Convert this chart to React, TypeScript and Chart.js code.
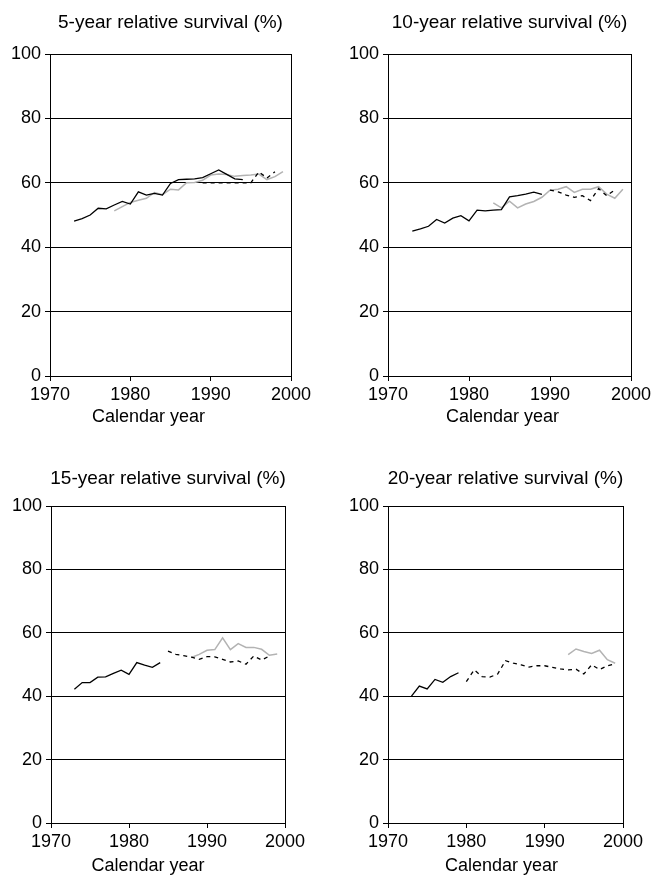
import React, { useEffect, useRef } from 'react';
import { Chart, registerables } from 'chart.js';

Chart.register(...registerables);

const FONT = '"Liberation Sans", Arial, sans-serif';

// ---- 5-year relative survival ----
const p5SolidStart = 1973;
const p5Solid = [48.1, 48.9, 50.0, 52.1, 51.9, 53.1, 54.2, 53.4, 57.2, 56.2, 56.7, 56.2, 59.8, 61.0, 61.1, 61.2, 61.6, 62.8, 64.0, 62.6, 61.2, 61.0];
const p5DashStart = 1989;
const p5Dash = [60.0, 60.0, 60.0, 60.0, 60.0, 60.0, 60.0, 63.4, 61.5, 63.4];
const p5GreyStart = 1978;
const p5Grey = [51.3, 52.6, 53.9, 54.6, 55.2, 57.0, 56.3, 58.0, 57.8, 60.0, 60.1, 60.8, 62.4, 62.7, 62.6, 62.0, 62.3, 62.4, 62.7, 61.0, 61.9, 63.5];

// ---- 10-year relative survival ----
const p10SolidStart = 1973;
const p10Solid = [45.0, 45.7, 46.5, 48.6, 47.5, 49.0, 49.8, 48.2, 51.5, 51.3, 51.5, 51.7, 55.6, 56.0, 56.5, 57.1, 56.4];
const p10DashStart = 1990;
const p10Dash = [57.7, 57.2, 56.2, 55.5, 56.0, 54.5, 58.2, 56.0, 57.8];
const p10GreyStart = 1983;
const p10Grey = [53.8, 52.2, 54.3, 52.2, 53.4, 54.2, 55.5, 57.7, 58.0, 58.8, 57.0, 58.0, 58.0, 58.8, 56.5, 55.2, 58.0];

// ---- 15-year relative survival ----
const p15SolidStart = 1973;
const p15Solid = [42.2, 44.3, 44.3, 46.0, 46.1, 47.2, 48.2, 46.9, 50.6, 49.8, 49.1, 50.6];
const p15DashStart = 1985;
const p15Dash = [54.2, 53.2, 52.8, 52.3, 51.6, 52.5, 52.4, 51.6, 50.8, 51.1, 50.1, 52.7, 51.4, 52.7];
const p15GreyStart = 1988;
const p15Grey = [52.2, 53.2, 54.5, 54.7, 58.4, 54.7, 56.6, 55.4, 55.4, 54.8, 52.9, 53.3];

// ---- 20-year relative survival ----
const p20SolidStart = 1973;
const p20Solid = [40.0, 43.2, 42.3, 45.3, 44.4, 46.2, 47.4];
const p20DashStart = 1980;
const p20Dash = [44.6, 48.3, 46.2, 46.0, 47.0, 51.2, 50.4, 49.9, 49.2, 49.6, 49.6, 49.1, 48.6, 48.3, 48.5, 47.0, 49.9, 48.4, 49.6, 50.2];
const p20GreyStart = 1993;
const p20Grey = [53.1, 54.9, 54.1, 53.5, 54.5, 51.5, 50.4];

const panelTitles = ['5-year relative survival (%)', '10-year relative survival (%)', '15-year relative survival (%)', '20-year relative survival (%)'];
const xAxisTitle = 'Calendar year';
const xMin = 1970;
const xMax = 2000;
const xStep = 10;
const yMin = 0;
const yMax = 100;
const yStep = 20;

const toPoints = (start: number, values: number[]) => values.map((v, i) => ({ x: start + i, y: v }));

const panelText = {
  id: 'panelText',
  afterDraw(chart: any, _args: any, opts: any) {
    const { ctx, chartArea } = chart;
    const cx = (chartArea.left + chartArea.right) / 2;
    ctx.save();
    ctx.fillStyle = '#000';
    ctx.textAlign = 'center';
    ctx.textBaseline = 'middle';
    ctx.font = `${opts.titleSize}px ${FONT}`;
    ctx.fillText(opts.title, cx + opts.titleDx, chartArea.top + opts.titleDy);
    ctx.font = `${opts.size}px ${FONT}`;
    ctx.fillText(opts.xTitle, cx + opts.xTitleDx, chartArea.bottom + opts.xTitleDy);
    ctx.restore();
  },
};

type PanelCfg = {
  x: number; y: number; w: number; h: number;
  pad: { left: number; right: number; top: number; bottom: number };
  title: string;
  titleDx: number;
  titleDy: number;
  xTitleDx: number;
  xTitleDy: number;
  solid: { x: number; y: number }[];
  dash: { x: number; y: number }[];
  grey: { x: number; y: number }[];
};

const panels: PanelCfg[] = [
  { x: 0, y: 0, w: 325, h: 440, pad: { left: 2, right: 34, top: 54, bottom: 34 }, title: panelTitles[0], titleDx: 0, titleDy: -31, xTitleDx: -22, xTitleDy: 41,
    solid: toPoints(p5SolidStart, p5Solid), dash: toPoints(p5DashStart, p5Dash), grey: toPoints(p5GreyStart, p5Grey) },
  { x: 325, y: 0, w: 336, h: 440, pad: { left: 15, right: 30, top: 54, bottom: 34 }, title: panelTitles[1], titleDx: 0, titleDy: -31, xTitleDx: -7, xTitleDy: 41,
    solid: toPoints(p10SolidStart, p10Solid), dash: toPoints(p10DashStart, p10Dash), grey: toPoints(p10GreyStart, p10Grey) },
  { x: 0, y: 440, w: 325, h: 436, pad: { left: 3, right: 40, top: 66, bottom: 23 }, title: panelTitles[2], titleDx: 0, titleDy: -27, xTitleDx: -20, xTitleDy: 43,
    solid: toPoints(p15SolidStart, p15Solid), dash: toPoints(p15DashStart, p15Dash), grey: toPoints(p15GreyStart, p15Grey) },
  { x: 325, y: 440, w: 326, h: 436, pad: { left: 15, right: 28, top: 66, bottom: 23 }, title: panelTitles[3], titleDx: 0, titleDy: -27, xTitleDx: -4, xTitleDy: 43,
    solid: toPoints(p20SolidStart, p20Solid), dash: toPoints(p20DashStart, p20Dash), grey: toPoints(p20GreyStart, p20Grey) },
];

function Panel({ cfg }: { cfg: PanelCfg }) {
  const ref = useRef<HTMLCanvasElement>(null);
  useEffect(() => {
    if (!ref.current) return;
    const font = { family: FONT, size: 18 };
    const chart = new Chart(ref.current, {
      type: 'line',
      data: {
        datasets: [
          { data: cfg.solid, borderColor: '#000', borderWidth: 1.3, pointRadius: 0, fill: false, tension: 0 },
          { data: cfg.dash, borderColor: '#000', borderWidth: 1.3, borderDash: [4, 4], pointRadius: 0, fill: false, tension: 0 },
          { data: cfg.grey, borderColor: '#b3b3b3', borderWidth: 1.5, pointRadius: 0, fill: false, tension: 0 },
        ],
      },
      options: {
        animation: false,
        responsive: false,
        events: [],
        layout: { padding: cfg.pad },
        plugins: {
          legend: { display: false },
          tooltip: { enabled: false },
          title: { display: false },
          panelText: { title: cfg.title, xTitle: xAxisTitle, size: 18, titleSize: 19, titleDx: cfg.titleDx, titleDy: cfg.titleDy, xTitleDx: cfg.xTitleDx, xTitleDy: cfg.xTitleDy },
        } as any,
        scales: {
          x: {
            type: 'linear', min: xMin, max: xMax,
            ticks: { stepSize: xStep, font, color: '#000', padding: 3, callback: (v: any) => String(v) },
            grid: { color: (c: any) => (c.tick && c.tick.value === xMax ? '#000' : 'rgba(0,0,0,0)'), tickColor: '#000', tickLength: 5, lineWidth: 1 },
            border: { display: true, color: '#000', width: 1 },
            afterFit: (s: any) => { s.height = 30; },
          },
          y: {
            type: 'linear', min: yMin, max: yMax,
            ticks: { stepSize: yStep, font, color: '#000', padding: 4, callback: (v: any) => String(v) },
            grid: { color: '#000', tickColor: '#000', tickLength: 5, lineWidth: 1 },
            border: { display: true, color: '#000', width: 1 },
            afterFit: (s: any) => { s.width = 48; },
          },
        },
      },
      plugins: [panelText as any],
    });
    return () => chart.destroy();
  }, [cfg]);
  return (
    <div style={{ position: 'absolute', left: cfg.x, top: cfg.y, width: cfg.w, height: cfg.h }}>
      <canvas ref={ref} width={cfg.w} height={cfg.h} style={{ display: 'block' }} />
    </div>
  );
}

export default function App() {
  return (
    <div style={{ position: 'absolute', left: 0, top: 0, width: 651, height: 876, overflow: 'hidden', background: '#fff' }}>
      {panels.map((p, i) => (
        <Panel key={i} cfg={p} />
      ))}
    </div>
  );
}
